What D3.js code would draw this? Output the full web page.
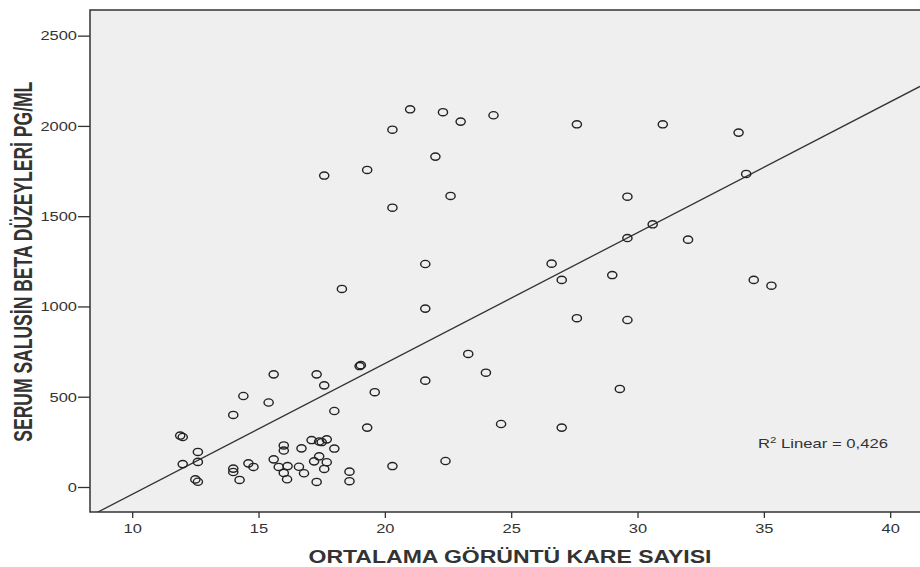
<!DOCTYPE html>
<html>
<head>
<meta charset="utf-8">
<script src="https://cdnjs.cloudflare.com/ajax/libs/d3/7.8.5/d3.min.js"></script>
<style>
  body { margin: 0; background: #fff; }
  svg text { font-family: "Liberation Sans", Arial, sans-serif; fill: #333; }
</style>
</head>
<body>
<script>
// ortalama görüntü kare sayısı (x) and serum salusin beta (y)
var frameCount = [
  17.6, 19.3, 20.3, 21.0, 22.3, 23.0, 22.0, 20.3, 22.6, 21.6, 18.3,
  24.3, 27.6, 31.0, 34.0, 34.3, 29.6, 30.6, 29.6, 32.0, 26.6, 27.0, 29.0, 34.6, 35.3,
  27.6, 29.6, 23.3, 24.0, 29.3, 24.6, 27.0,
  21.6, 19.0, 19.05, 21.6, 19.6, 18.0, 19.3, 20.3, 22.4,
  15.6, 17.3, 17.6, 14.4, 15.4, 14.0,
  11.9, 12.0, 12.6, 12.0, 12.6, 12.5, 12.6,
  14.0, 14.0, 14.25, 14.6, 14.8, 15.6, 15.8,
  16.0, 16.0, 16.15, 16.0, 16.13, 16.6, 16.7, 16.8,
  17.1, 17.4, 17.5, 17.7, 18.0, 17.4, 17.2, 17.7, 17.6, 17.3, 18.6, 18.6
];
var salusin = [
  1725, 1756, 1979, 2092, 2076, 2024, 1830, 1547, 1612, 1235, 1097,
  2059, 2009, 2009, 1963, 1734, 1608, 1455, 1379, 1370, 1237, 1147, 1174, 1147, 1115,
  935, 925, 737, 633, 543, 349, 329,
  988, 670, 675, 589, 525, 421, 329, 116, 144,
  624, 624, 563, 504, 468, 399,
  285, 277, 194, 127, 139, 42, 29,
  102, 83, 39, 131, 111, 153, 111,
  230, 202, 116, 78, 43, 112, 214, 76,
  260, 252, 249, 264, 213, 170, 142, 137, 100, 28, 85, 32
];
var xTicks = [10, 15, 20, 25, 30, 35, 40];
var yTicks = [0, 500, 1000, 1500, 2000, 2500];
var xTitle = "ORTALAMA GÖRÜNTÜ KARE SAYISI";
var yTitle = "SERUM SALUSİN BETA DÜZEYLERİ PG/ML";
var r2Value = "0,426";

var W = 920, H = 567;
var pL = 90, pT = 10, pR = 925, pB = 512;
var stretch = 1.22; // picture is widened horizontally

var svg = d3.select("body").append("svg")
  .attr("width", W).attr("height", H);

var x = d3.scaleLinear().domain([8.33, 41.18]).range([pL, 920]);
var y = d3.scaleLinear().domain([-138.5, 2642]).range([pB, pT]);

svg.append("clipPath").attr("id", "plotclip")
  .append("rect").attr("x", pL).attr("y", pT)
  .attr("width", pR - pL).attr("height", pB - pT);

svg.append("rect")
  .attr("x", pL).attr("y", pT)
  .attr("width", pR - pL).attr("height", pB - pT)
  .attr("fill", "#efefef")
  .attr("stroke", "#333").attr("stroke-width", 1.5);

// axes
var yAxis = svg.append("g")
  .attr("transform", "translate(" + pL + ",0)")
  .call(d3.axisLeft(y).tickValues(yTicks).tickSize(12).tickPadding(1).tickFormat(d3.format("d")));
var xAxis = svg.append("g")
  .attr("transform", "translate(0," + pB + ")")
  .call(d3.axisBottom(x).tickValues(xTicks).tickSize(6).tickPadding(5));

[yAxis, xAxis].forEach(function (g) {
  g.select(".domain").remove();
  g.selectAll("line").attr("stroke", "#333").attr("stroke-width", 1.3);
  g.selectAll("text").attr("font-size", 13.5).attr("fill", "#333")
    .style("font-family", "'Liberation Sans', Arial, sans-serif");
});
yAxis.selectAll("text").each(function () {
  var t = d3.select(this);
  t.attr("x", +t.attr("x") / stretch).attr("transform", "scale(" + stretch + ",1)");
});
xAxis.selectAll("text").attr("transform", "scale(" + stretch + ",1)");

// fit line (least squares on the points)
var n = frameCount.length;
var mx = d3.mean(frameCount), my = d3.mean(salusin);
var sxy = d3.sum(frameCount, function (v, i) { return (v - mx) * (salusin[i] - my); });
var sxx = d3.sum(frameCount, function (v) { return (v - mx) * (v - mx); });
var slope = sxy / sxx, intercept = my - slope * mx;
var xd = x.domain();
svg.append("line")
  .attr("clip-path", "url(#plotclip)")
  .attr("x1", x(xd[0])).attr("y1", y(intercept + slope * xd[0]))
  .attr("x2", x(xd[1])).attr("y2", y(intercept + slope * xd[1]))
  .attr("stroke", "#333").attr("stroke-width", 1.3);

// points
svg.append("g").selectAll("ellipse")
  .data(d3.range(n))
  .join("ellipse")
  .attr("cx", function (i) { return x(frameCount[i]); })
  .attr("cy", function (i) { return y(salusin[i]); })
  .attr("rx", 4.6).attr("ry", 3.6)
  .attr("fill", "none")
  .attr("stroke", "#222").attr("stroke-width", 1.4);

// R2 label
var r2 = svg.append("text")
  .attr("x", 758).attr("y", 447.5)
  .attr("font-size", 13)
  .attr("textLength", 130).attr("lengthAdjust", "spacingAndGlyphs");
r2.append("tspan").text("R");
r2.append("tspan").attr("font-size", 9).attr("dy", -5).text("2");
r2.append("tspan").attr("dy", 5).text(" Linear = " + r2Value);

// titles
svg.append("text")
  .attr("x", 510).attr("y", 563)
  .attr("text-anchor", "middle")
  .attr("font-size", 18).attr("font-weight", "bold").attr("fill", "#111")
  .attr("textLength", 403).attr("lengthAdjust", "spacingAndGlyphs")
  .text(xTitle);

svg.append("text")
  .attr("transform", "translate(32,261.7) rotate(-90) scale(1," + stretch + ")")
  .attr("text-anchor", "middle")
  .attr("font-size", 20.5).attr("font-weight", "bold").attr("fill", "#111")
  .attr("textLength", 360).attr("lengthAdjust", "spacingAndGlyphs")
  .text(yTitle);
</script>
</body>
</html>
